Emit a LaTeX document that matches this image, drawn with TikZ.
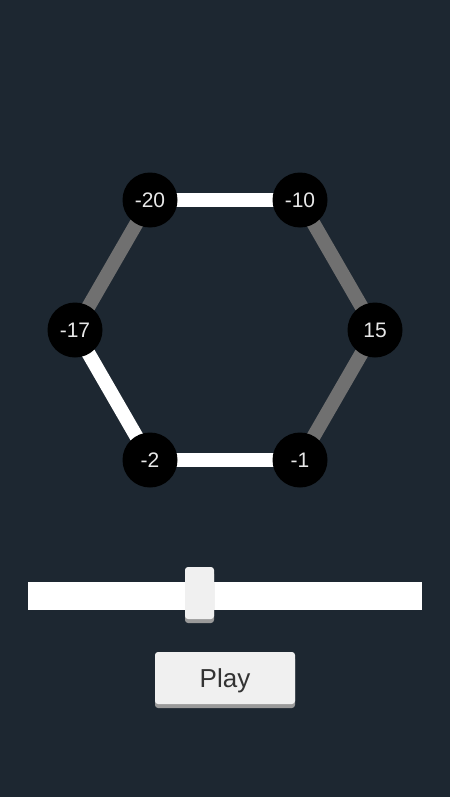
\documentclass[tikz,border=0pt]{standalone}
\usepackage{fontspec}
\setmainfont{Liberation Sans}
\definecolor{bg}{HTML}{1D2731}
\definecolor{edgegray}{HTML}{707070}
\definecolor{nodetext}{HTML}{E8E8E8}
\definecolor{btn}{HTML}{F0F0F0}
\definecolor{btnshadow}{HTML}{9A9A9A}
\definecolor{btntext}{HTML}{333333}
\begin{document}
\begin{tikzpicture}[x=1pt,y=-1pt,
  vert/.style={circle,fill=black,minimum size=55pt,inner sep=0pt,text=nodetext,font=\fontsize{21}{21}\selectfont},
  onedge/.style={line width=14pt,white},
  offedge/.style={line width=14pt,edgegray}]
\fill[bg] (0,0) rectangle (450,797);
\useasboundingbox (0,0) rectangle (450,797);
\coordinate (pa) at (150,200);
\coordinate (pb) at (300,200);
\coordinate (pc) at (375,330);
\coordinate (pd) at (300,460);
\coordinate (pe) at (150,460);
\coordinate (pf) at (75,330);
\draw[onedge] (pa) -- (pb);
\draw[offedge] (pb) -- (pc);
\draw[offedge] (pc) -- (pd);
\draw[onedge] (pd) -- (pe);
\draw[onedge] (pe) -- (pf);
\draw[offedge] (pf) -- (pa);
\node[vert] (na) at (pa) {-20};
\node[vert] (nb) at (pb) {-10};
\node[vert] (nc) at (pc) {15};
\node[vert] (nd) at (pd) {-1};
\node[vert] (ne) at (pe) {-2};
\node[vert] (nf) at (pf) {-17};
% slider
\fill[white] (28,582) rectangle (422,610);
\fill[btnshadow,rounded corners=3pt] (185,571) rectangle (214,623);
\fill[btn,rounded corners=3pt] (185,567) rectangle (214,619);
% button
\fill[btnshadow,rounded corners=3pt] (155,656) rectangle (295,708);
\fill[btn,rounded corners=3pt] (155,652) rectangle (295,704);
\node[text=btntext,font=\fontsize{26}{26}\selectfont] (play) at (225,680.5) {Play};
\end{tikzpicture}
\end{document}
